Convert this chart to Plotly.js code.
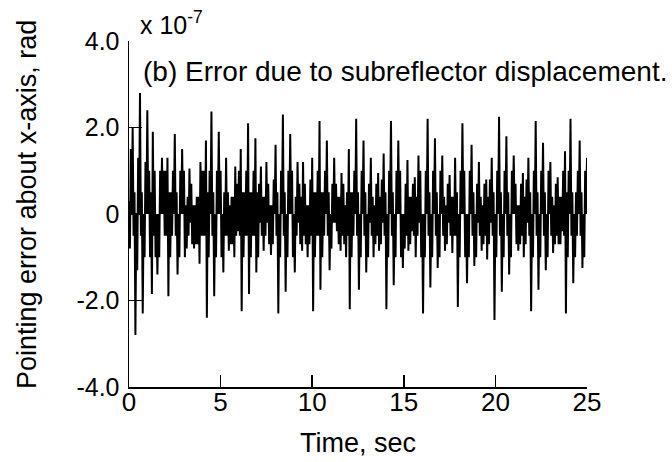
<!DOCTYPE html>
<html><head><meta charset="utf-8">
<script src="https://cdn.plot.ly/plotly-3.0.1.min.js"></script>
<style>html,body{margin:0;padding:0;background:#fff;} #chart{width:672px;height:462px;}</style>
</head><body><div id="chart"></div>
<script>
// Pointing error, units of 1e-7 rad. Sample step 0.1 s.
const dt = 0.1;
// local maxima read at t = 0.0, 0.1, ... 25.0
const upperPeaks = [
 0.3,1.5,2.0,0.5,0.0,1.3,2.8,0.5,0.0,1.2,
 2.4,1.0,0.5,1.9,1.0,0.0,0.0,1.0,1.3,1.0,
 1.0,1.3,0.5,0.5,1.0,1.85,0.5,0.0,1.0,1.5,
 1.0,0.2,0.4,1.05,0.7,0.2,0.2,0.4,0.4,1.2,
 1.0,1.0,1.7,0.5,1.0,2.37,0.5,0.0,1.0,1.9,
 1.0,0.0,0.5,1.3,0.5,0.2,0.4,0.4,1.1,0.7,
 1.0,1.5,0.5,0.5,1.0,2.1,0.5,0.5,1.0,1.75,
 0.5,0.7,1.1,0.4,0.4,1.2,0.7,0.2,0.2,0.8,
 1.6,0.5,0.0,1.0,2.3,0.5,0.0,1.0,1.85,1.0,
 0.0,0.4,1.2,0.7,0.4,1.2,0.7,0.2,0.2,0.8,
 1.3,0.5,0.5,1.0,2.15,0.5,0.5,1.0,1.7,0.5,
 0.0,0.7,1.3,0.7,0.4,0.4,0.95,0.7,0.2,0.5,
 1.5,0.5,0.5,1.0,2.2,0.5,0.0,1.0,1.7,0.5,
 0.0,0.7,1.3,0.4,0.2,0.7,0.95,0.4,0.8,1.4,
 0.5,0.0,1.0,2.15,0.5,0.0,1.0,1.7,1.0,0.0,
 0.0,0.7,1.25,0.4,0.4,0.7,0.85,0.4,1.35,1.0,
 0.0,0.0,1.0,2.2,0.5,0.0,1.0,1.75,0.5,0.0,
 1.0,1.35,0.4,0.2,0.7,0.9,0.4,0.4,1.3,0.5,
 0.0,1.0,2.1,1.0,0.0,0.0,1.0,1.6,0.5,0.0,
 0.7,1.2,0.4,0.2,0.7,0.8,0.4,0.8,1.3,0.5,
 0.0,1.0,2.25,0.5,0.0,1.0,1.8,0.5,0.0,1.0,
 1.35,0.7,0.2,0.2,0.7,0.95,0.4,0.8,1.3,0.5,
 0.0,1.0,2.15,0.5,0.0,1.0,1.65,0.5,0.0,1.0,
 1.2,0.4,0.2,0.7,0.85,0.4,0.4,1.0,1.45,0.5,
 1.0,2.2,0.5,0.0,0.5,1.0,1.7,0.5,0.0,1.0,
 1.3
];
// local minima read at t = 0.05, 0.15, ... 24.95
const lowerPeaks = [
 -0.8,0.0,-0.5,-2.8,-1.3,0.0,-0.5,-2.3,-1.0,0.0,
 0.0,-1.0,-1.85,-0.5,-1.0,-1.4,-1.0,0.0,0.0,-0.5,
 -0.5,-1.9,-1.0,-0.5,0.0,-0.5,-1.4,-1.0,0.0,0.0,
 -1.0,-0.8,-0.5,-0.2,-0.7,-0.8,-0.7,-0.7,-1.15,-0.5,
 -0.5,-0.5,-2.4,-1.0,0.0,-0.5,-1.9,-1.0,0.0,0.0,
 -1.0,-1.35,-0.5,-0.5,-0.85,-0.7,-0.7,-1.0,-0.5,-0.4,
 -0.5,-2.25,-1.0,-0.5,-0.5,-1.85,-1.0,-0.5,-0.5,-1.35,
 -1.0,-0.2,-0.5,-0.85,-0.5,-0.2,-0.7,-0.95,-0.7,0.0,
 -0.5,-2.3,-1.0,0.0,-0.5,-1.8,-1.0,0.0,0.0,-1.0,
 -1.35,-0.5,-0.2,-0.7,-0.85,-0.5,-0.7,-1.0,-0.7,-0.5,
 -2.25,-1.0,-0.5,-0.5,-1.75,-1.0,-0.5,0.0,-0.5,-1.3,
 -0.8,-0.2,-0.2,-0.4,-0.7,-0.85,-0.5,-0.7,-1.0,-0.5,
 -2.2,-1.0,-0.5,0.0,-0.5,-1.75,-1.0,0.0,-0.5,-1.35,
 -1.0,-0.2,-0.5,-1.0,-0.7,-0.5,-0.85,-0.7,-0.2,-0.5,
 -2.2,-1.0,0.0,-0.5,-1.65,-1.0,0.0,0.0,-1.0,-1.25,
 -0.8,-0.5,-0.85,-0.7,-0.4,-0.5,-1.0,-0.5,-0.2,-1.0,
 -2.3,-1.0,0.0,-0.5,-1.7,-1.0,0.0,-0.5,-1.25,-1.0,
 0.0,-0.5,-0.85,-0.7,-0.2,-0.5,-0.9,-0.5,-0.5,-2.15,
 -1.0,0.0,0.0,-1.0,-1.6,-1.0,0.0,-0.5,-1.2,-1.0,
 -0.2,-0.5,-0.85,-0.7,-0.5,-1.05,-0.7,-0.2,-0.5,-2.45,
 -1.0,0.0,-0.5,-1.8,-1.0,0.0,-0.5,-1.4,-1.0,0.0,
 0.0,-0.7,-0.85,-0.7,-0.5,-1.0,-0.7,-0.2,-0.5,-2.25,
 -1.0,0.0,-0.5,-1.75,-1.0,0.0,-0.5,-1.3,-1.0,0.0,
 -0.5,-0.9,-0.7,-0.5,-0.7,-0.7,-0.4,-0.5,-2.3,-1.0,
 0.0,-0.5,-1.6,-1.0,-0.5,0.0,-0.5,-1.25,-1.0,0.0
];
const xTickVals = [0,5,10,15,20,25];
const xTickText = ['0','5','10','15','20','25'];
const yTickVals = [-4,-2,0,2,4];
const yTickText = ['-4.0','-2.0','0','2.0','4.0'];

const t = [], y = [];
for (let i = 0; i < upperPeaks.length; i++) {
  t.push(i * dt); y.push(upperPeaks[i]);
  if (i < lowerPeaks.length) { t.push(i * dt + dt / 2); y.push(lowerPeaks[i]); }
}

const FONT = 'Liberation Sans, Arial, Helvetica, sans-serif';
const trace = {x: t, y: y, type: 'scatter', mode: 'lines',
  line: {color: '#000', width: 2}, hoverinfo: 'skip'};

const layout = {
  width: 672, height: 462,
  margin: {l: 129, r: 85, t: 41, b: 75},
  paper_bgcolor: '#fff', plot_bgcolor: '#fff',
  showlegend: false,
  font: {family: FONT, color: '#000'},
  xaxis: {
    range: [0, 25], tickvals: xTickVals, ticktext: xTickText,
    ticks: 'inside', ticklen: 12, tickwidth: 1.5, tickcolor: '#000',
    showline: true, linewidth: 1.5, linecolor: '#000',
    showgrid: false, zeroline: false, ticklabelstandoff: -9,
    tickfont: {size: 26, family: FONT, color: '#000'},
    title: {text: 'Time, sec', font: {size: 27, family: FONT, color: '#000'}, standoff: 17}
  },
  yaxis: {
    range: [-4, 4], tickvals: yTickVals, ticktext: yTickText,
    ticks: 'inside', ticklen: 13, tickwidth: 1.5, tickcolor: '#000',
    showline: true, linewidth: 1.5, linecolor: '#000',
    showgrid: false, zeroline: false, ticklabelstandoff: 3,
    tickfont: {size: 25, family: FONT, color: '#000'}
  },
  annotations: [
    {xref: 'paper', yref: 'paper', x: -0.2227, y: 0.526, xanchor: 'center', yanchor: 'middle',
     textangle: -90, text: 'Pointing error about x-axis, rad', showarrow: false,
     font: {size: 27, family: FONT, color: '#000'}},
    {xref: 'paper', yref: 'paper', x: 0.02, y: 1.0, xanchor: 'left', yanchor: 'bottom',
     text: 'x 10<sup>-7</sup>', showarrow: false, font: {size: 25, family: FONT, color: '#000'}},
    {xref: 'x', yref: 'y', x: 0.65, y: 3.3, xanchor: 'left', yanchor: 'middle',
     text: '(b) Error due to subreflector displacement.', showarrow: false,
     font: {size: 28, family: FONT, color: '#000'}}
  ]
};
Plotly.newPlot('chart', [trace], layout, {staticPlot: true, displayModeBar: false});
</script></body></html>
